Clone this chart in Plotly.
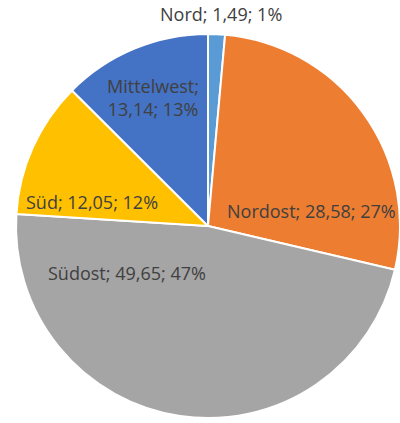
import plotly.graph_objects as go

regions = ["Nord", "Nordost", "Südost", "Süd", "Mittelwest"]
values = [1.49, 28.58, 49.65, 12.05, 13.14]
colors = ["#5B9BD5", "#ED7D31", "#A5A5A5", "#FFC000", "#4472C4"]

# label anchor positions (pixels, style only)
label_px = [(221, 14), (311, 211), (127, 273), (92, 202), (153, 97)]
label_breaks = [False, False, False, False, True]

W, H = 400, 423

# percentages as shown (rounded so that they sum to 100, largest remainder)
total = sum(values)
raw = [v / total * 100 for v in values]
pct = [int(r) for r in raw]
rest = 100 - sum(pct)
order = sorted(range(len(raw)), key=lambda i: raw[i] - int(raw[i]), reverse=True)
for i in order[:rest]:
    pct[i] += 1


def fmt(v):
    return f"{v:.2f}".replace(".", ",")


fig = go.Figure(go.Pie(
    labels=regions,
    values=values,
    sort=False,
    direction="clockwise",
    rotation=0,
    marker=dict(colors=colors, line=dict(color="white", width=2)),
    textinfo="none",
    hoverinfo="label+value+percent",
    domain=dict(x=[16 / W, 1.0], y=[1 - 418 / H, 1 - 34 / H]),
    showlegend=False,
))

for name, v, p, (px, py), br in zip(regions, values, pct, label_px, label_breaks):
    sep = ";<br>" if br else "; "
    fig.add_annotation(
        x=px / W, y=1 - py / H, xref="paper", yref="paper",
        xanchor="center", yanchor="middle", showarrow=False,
        text=f"{name}{sep}{fmt(v)}; {p}%",
        font=dict(family="Open Sans", size=18, color="#404040"),
    )

fig.update_layout(
    width=W, height=H,
    margin=dict(l=0, r=0, t=0, b=0),
    paper_bgcolor="white",
    separators=",.",
)
fig.write_html("out.html")
